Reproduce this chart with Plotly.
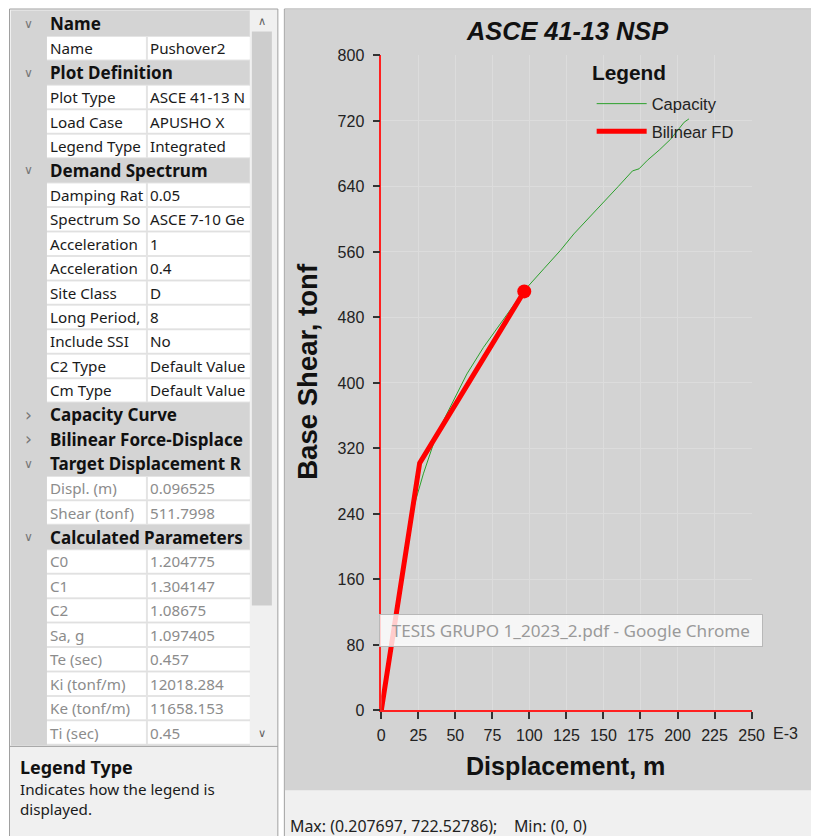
import plotly.graph_objects as go

W, H = 827, 838
# the page shows the figure slightly shrunk and shifted; positions below are in
# screen pixels and get mapped back through this
SC, CX, CY = 0.98, 11.0, 15.5

# capacity curve (displacement in m, shear in tonf)
cap_disp = [0, 0.010, 0.017, 0.0228, 0.0284, 0.0375, 0.0476, 0.0578, 0.069, 0.0826,
            0.0961, 0.110, 0.121, 0.130, 0.140, 0.1492, 0.160, 0.1696, 0.174, 0.1797,
            0.188, 0.1955, 0.2045, 0.2077]
cap_shear = [0, 120, 200, 254, 289, 338, 374, 411, 443.5, 478,
             512, 540, 562, 582, 601, 619, 640, 659, 661.5, 672,
             685, 698, 718.5, 722.5]

# bilinear force-displacement
bil_disp = [0, 0.0259, 0.096525]
bil_shear = [0, 302, 511.7998]

target_disp = [0.096525]
target_shear = [511.7998]

# property grid
grid_labels = ["Name", "Name", "Plot Definition", "Plot Type", "Load Case", "Legend Type",
               "Demand Spectrum", "Damping Rat", "Spectrum So", "Acceleration", "Acceleration",
               "Site Class", "Long Period,", "Include SSI", "C2 Type", "Cm Type",
               "Capacity Curve", "Bilinear Force-Displace", "Target Displacement R",
               "Displ. (m)", "Shear (tonf)", "Calculated Parameters", "C0", "C1", "C2",
               "Sa, g", "Te (sec)", "Ki (tonf/m)", "Ke (tonf/m)", "Ti (sec)"]
grid_values = ["", "Pushover2", "", "ASCE 41-13 N", "APUSHO X", "Integrated",
               "", "0.05", "ASCE 7-10 Ge", "1", "0.4",
               "D", "8", "No", "Default Value", "Default Value",
               "", "", "",
               "0.096525", "511.7998", "", "1.204775", "1.304147", "1.08675",
               "1.097405", "0.457", "12018.284", "11658.153", "0.45"]
grid_kinds = ["open", "row", "open", "row", "row", "row",
              "open", "row", "row", "row", "row",
              "row", "row", "row", "row", "row",
              "closed", "closed", "open",
              "ro", "ro", "open", "ro", "ro", "ro",
              "ro", "ro", "ro", "ro", "ro"]


def X(px):
    return ((px - CX) / SC) / W


def Y(py):
    return 1 - ((py - CY) / SC) / H


def fs(size):
    return size / SC


shapes = []
annots = []


def rect(x0, y0, x1, y1, fill, line=None):
    shapes.append(dict(type="rect", xref="paper", yref="paper",
                       x0=X(x0), x1=X(x1), y0=Y(y1), y1=Y(y0),
                       fillcolor=fill, layer="below",
                       line=dict(width=1 if line else 0, color=line or fill)))


def text(x, y, s, size=15, color="#1a1a1a", bold=False, xanchor="left",
         family="Noto Sans", angle=0):
    annots.append(dict(xref="paper", yref="paper", x=X(x), y=Y(y),
                       text="<b>%s</b>" % s if bold else s, showarrow=False,
                       xanchor=xanchor, yanchor="middle", textangle=angle, align="left",
                       font=dict(size=fs(size), color=color, family=family)))


# left panel
rect(8.5, 7.5, 277, 850, "#f0f0f0", "#a0a0a0")
rect(10, 9, 249, 745, "#d4d4d4")
rect(249, 9, 273, 745, "#f0f0f0")
rect(251, 30, 271, 605, "#cdcdcd")
text(261, 20, "∧", size=11, color="#606060", xanchor="center", family="DejaVu Sans")
text(261, 733, "∨", size=11, color="#606060", xanchor="center", family="DejaVu Sans")
shapes.append(dict(type="line", xref="paper", yref="paper", x0=X(8), x1=X(277),
                   y0=Y(746), y1=Y(746), line=dict(color="#a0a0a0", width=1)))

row_h = 24.48
for i, (lab, val, kind) in enumerate(zip(grid_labels, grid_values, grid_kinds)):
    top = 10 + row_h * i
    cy = top + row_h / 2
    if kind in ("open", "closed"):
        text(28, cy, "∨" if kind == "open" else "›", size=12 if kind == "open" else 17,
             color="#777777", xanchor="center", family="DejaVu Sans")
        text(47, cy, lab, size=16.7, bold=True, color="#111111")
    else:
        rect(46, top, 249, top + row_h, "#e4e4e4")
        rect(46, top + 1, 145, top + row_h - 1, "white")
        rect(147, top + 1, 249, top + row_h - 1, "white")
        col = "#8c8c8c" if kind == "ro" else "#1a1a1a"
        text(47, cy, lab, size=14.9, color=col)
        text(147, cy, val, size=14.9, color=col)

# description box
text(17, 767, "Legend Type", size=17.6, bold=True, color="#111111")
text(17, 799, "Indicates how the legend is<br>displayed.", size=14.9)

# right panel
rect(283.5, 7.5, 840, 850, "#f0f0f0", "#a0a0a0")
rect(284, 8, 840, 790, "#d3d3d3")
text(287, 826, "Max: (0.207697, 722.52786);&nbsp;&nbsp;&nbsp;&nbsp;Min: (0, 0)", size=15.6,
     color="#222222")

ARIAL = "Liberation Sans, Arial"
text(566, 30, "<i>ASCE 41-13 NSP</i>", size=24.8, bold=True, xanchor="center", family=ARIAL,
     color="#111111")
text(307, 370, "Base Shear, tonf", size=27, bold=True, xanchor="center", family=ARIAL,
     color="#111111", angle=-90)
text(565, 766, "Displacement, m", size=24.6, bold=True, xanchor="center", family=ARIAL,
     color="#111111")
text(770, 733, "E-3", size=15.7, family=ARIAL, color="#222222")
text(589, 71, "Legend", size=20.4, bold=True, family=ARIAL, color="#111111")

# the stray window tooltip
annots.append(dict(xref="paper", yref="paper", x=X(570), y=Y(630),
                   text="TESIS GRUPO 1_2023_2.pdf - Google Chrome", showarrow=False,
                   xanchor="center", yanchor="middle", width=372 / SC, height=28 / SC,
                   bgcolor="rgba(255,255,255,0.8)", bordercolor="#b8b8b8", borderwidth=1,
                   font=dict(size=fs(16.8), color="#9a9a9a", family="Noto Sans")))

fig = go.Figure()
fig.add_trace(go.Scatter(x=[d * 1000 for d in cap_disp], y=cap_shear, mode="lines",
                         name="Capacity", legendgroup="a",
                         line=dict(color="#2ca02c", width=1)))
fig.add_trace(go.Scatter(x=[d * 1000 for d in bil_disp], y=bil_shear, mode="lines",
                         name="Bilinear FD", legendgroup="b",
                         line=dict(color="#ff0000", width=5)))
fig.add_trace(go.Scatter(x=[d * 1000 for d in target_disp], y=target_shear, mode="markers",
                         showlegend=False, marker=dict(color="#ff0000", size=14)))

axis_common = dict(showgrid=True, gridcolor="#dcdcdc", gridwidth=1, zeroline=False,
                   showline=True, linecolor="#ff2020", linewidth=1.5,
                   ticks="outside", ticklen=7, tickcolor="#333333", tickwidth=1.5,
                   tickfont=dict(size=fs(15.7), family=ARIAL, color="#222222"))

fig.update_layout(
    width=W, height=H, margin=dict(l=0, r=0, t=0, b=0),
    paper_bgcolor="white", plot_bgcolor="white",
    xaxis=dict(domain=[X(380.5), X(751)], range=[0, 250], tick0=0, dtick=25,
               ticklabelstandoff=3, **axis_common),
    yaxis=dict(domain=[Y(710), Y(54)], range=[0, 800], tick0=0, dtick=80,
               ticklabelstandoff=5, **axis_common),
    shapes=shapes, annotations=annots,
    legend=dict(x=X(591), y=Y(85), xanchor="left", yanchor="top",
                bgcolor="rgba(0,0,0,0)", tracegroupgap=3, itemwidth=50,
                font=dict(size=fs(16.2), family=ARIAL, color="#222222")),
    showlegend=True,
)

fig.write_html("out.html")
